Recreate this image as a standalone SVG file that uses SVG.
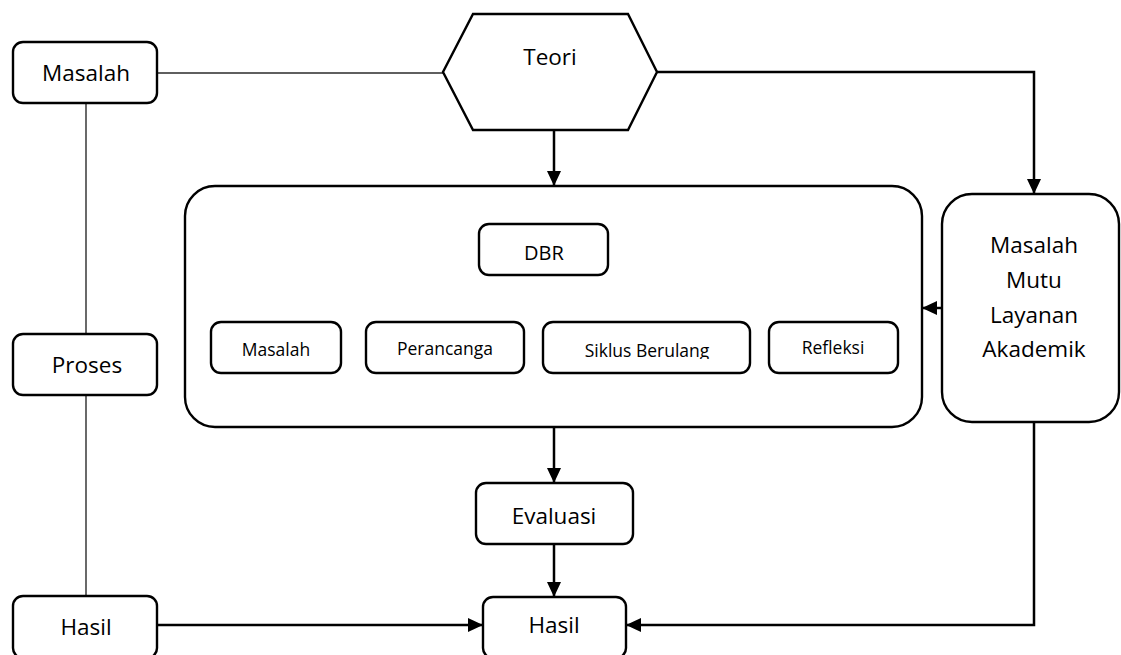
<svg xmlns="http://www.w3.org/2000/svg" width="1121" height="655" viewBox="0 0 1121 655">
<defs>
<marker id="arr" markerUnits="userSpaceOnUse" markerWidth="16" markerHeight="14" refX="15" refY="7" orient="auto">
<path d="M0,0 L15,7 L0,14 Z" fill="#000"/>
</marker>
<clipPath id="siklusClip"><rect x="543" y="322" width="207" height="37"/></clipPath>
</defs>
<style>
.box{fill:#fff;stroke:#000;stroke-width:2.4}
.t{font-family:"Open Sans","Noto Sans","Liberation Sans",sans-serif;fill:#000;text-anchor:middle}
.l{font-size:22.5px}
.s{font-size:17.5px}
.c{fill:none;stroke:#000;stroke-width:2.5}
.thin{fill:none;stroke:#2a2a2a;stroke-width:1.4}
</style>
<rect width="1121" height="655" fill="#fff"/>
<g id="connectors">
<line class="thin" x1="157" y1="73" x2="443" y2="73"/>
<line class="thin" x1="86" y1="103" x2="86" y2="334"/>
<line class="thin" x1="86" y1="395" x2="86" y2="596"/>
<line class="c" x1="554" y1="130" x2="554" y2="186" marker-end="url(#arr)"/>
<polyline class="c" points="657,72 1034,72 1034,194" marker-end="url(#arr)"/>
<line class="c" x1="942" y1="308" x2="922" y2="308" marker-end="url(#arr)"/>
<line class="c" x1="554" y1="427" x2="554" y2="483" marker-end="url(#arr)"/>
<line class="c" x1="554" y1="544" x2="554" y2="597" marker-end="url(#arr)"/>
<line class="c" x1="157" y1="625" x2="483" y2="625" marker-end="url(#arr)"/>
<polyline class="c" points="1034,422 1034,625 626,625" marker-end="url(#arr)"/>
</g>
<g id="masalah-left">
<rect class="box" x="13" y="42" width="144" height="61" rx="10"/>
<text class="t l" x="86" y="81">Masalah</text>
</g>
<g id="proses">
<rect class="box" x="13" y="334" width="144" height="61" rx="10"/>
<text class="t l" x="87" y="373">Proses</text>
</g>
<g id="hasil-left">
<rect class="box" x="13" y="596" width="144" height="62" rx="10"/>
<text class="t l" x="86" y="635">Hasil</text>
</g>
<g id="teori">
<polygon class="box" points="473,14 628,14 657,72 628,130 473,130 443,72"/>
<text class="t l" x="550" y="65">Teori</text>
</g>
<g id="dbr-container">
<rect class="box" x="185" y="186" width="737" height="241" rx="30"/>
</g>
<g id="dbr">
<rect class="box" x="479" y="224" width="129" height="51" rx="10"/>
<text class="t" style="font-size:20px" x="544" y="260">DBR</text>
</g>
<g id="masalah-inner">
<rect class="box" x="211" y="322" width="130" height="51" rx="10"/>
<text class="t s" x="276" y="356">Masalah</text>
</g>
<g id="perancanga">
<rect class="box" x="366" y="322" width="158" height="51" rx="10"/>
<text class="t s" x="445" y="355">Perancanga</text>
</g>
<g id="siklus">
<rect class="box" x="543" y="322" width="207" height="51" rx="10"/>
<text class="t s" x="647" y="357" clip-path="url(#siklusClip)">Siklus Berulang</text>
</g>
<g id="refleksi">
<rect class="box" x="769" y="322" width="129" height="51" rx="10"/>
<text class="t s" x="833" y="354">Refleksi</text>
</g>
<g id="masalah-mutu">
<rect class="box" x="942" y="194" width="177" height="228" rx="30"/>
<text class="t l" x="1034" y="253">Masalah</text>
<text class="t l" x="1034" y="288">Mutu</text>
<text class="t l" x="1034" y="323">Layanan</text>
<text class="t l" x="1034" y="357">Akademik</text>
</g>
<g id="evaluasi">
<rect class="box" x="476" y="483" width="157" height="61" rx="10"/>
<text class="t l" x="554" y="524">Evaluasi</text>
</g>
<g id="hasil-center">
<rect class="box" x="483" y="597" width="143" height="61" rx="10"/>
<text class="t l" x="554" y="633">Hasil</text>
</g>
</svg>
